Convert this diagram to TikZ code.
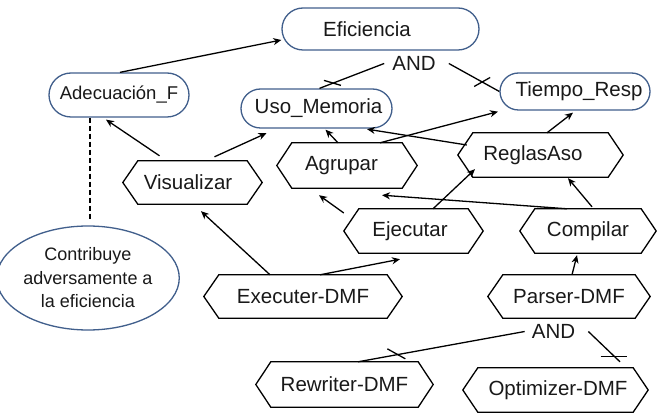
\documentclass[tikz,border=0pt]{standalone}
\usepackage{fontspec}
\setmainfont{Liberation Sans}
\usetikzlibrary{shapes.misc,shapes.geometric,arrows.meta}
\definecolor{bord}{RGB}{65,95,140}
\definecolor{txt}{RGB}{25,25,25}
\begin{document}
\begin{tikzpicture}[x=1pt,y=-1pt,
  stad/.style={rounded rectangle, draw=bord, line width=1.3pt, fill=white, inner sep=0pt, text=txt, font=\fontsize{20.5}{24}\selectfont},
  hexn/.style={rectangle, inner sep=0pt, text=txt, font=\fontsize{20.5}{24}\selectfont},
  hexline/.style={line width=1.3pt, line join=miter},
  andlbl/.style={inner sep=0pt, text=txt, font=\fontsize{20.5}{24}\selectfont},
  conn/.style={line width=1.3pt, -{Stealth[length=8pt,width=7pt,inset=2.5pt]}},
  plainln/.style={line width=1.3pt},
  tick/.style={line width=1.3pt}]
\useasboundingbox[fill=white] (0,0) rectangle (657,414);

% rounded (goal) nodes
\node[stad, minimum width=197pt, minimum height=42pt] (ef) at (380.5,29) {Eficiencia\kern27pt};
\node[stad, minimum width=140pt, minimum height=44pt, font=\fontsize{18.5}{22}\selectfont] (adec) at (119,95) {Adecuación\_F};
\node[stad, minimum width=151pt, minimum height=39pt] (uso) at (316.5,108.5) {\kern4pt Uso\_Memoria};
\node[stad, minimum width=150pt, minimum height=37pt] (tiempo) at (575,91.5) {\kern8pt Tiempo\_Resp};

% AND labels
\node[andlbl] (and1) at (414,63.5) {AND};
\node[andlbl] (and2) at (553.5,331.5) {AND};

% hexagon (task) nodes
\node[hexn, minimum width=139pt, minimum height=43pt] (vis) at (192.5,182.5) {Visualizar\kern9pt};
\node[hexn, minimum width=140pt, minimum height=45pt] (agr) at (347,165.5) {Agrupar\kern11pt};
\node[hexn, minimum width=165pt, minimum height=44pt] (reg) at (540.5,155) {ReglasAso\kern15pt};
\node[hexn, minimum width=139pt, minimum height=44pt] (eje) at (413.5,231) {Ejecutar\kern7pt};
\node[hexn, minimum width=136pt, minimum height=44pt] (com) at (588,231) {Compilar};
\node[hexn, minimum width=198pt, minimum height=43pt] (exe) at (303,296.5) {Executer-DMF};
\node[hexn, minimum width=162pt, minimum height=43pt] (par) at (569,296.5) {Parser-DMF};
\node[hexn, minimum width=177pt, minimum height=45pt] (rew) at (344.5,384.5) {Rewriter-DMF};
\node[hexn, minimum width=185pt, minimum height=44pt] (opt) at (555.5,390) {\kern5pt Optimizer-DMF};

\foreach \n in {vis,agr,reg,eje,com,exe,par,rew,opt}
  \draw[hexline] (\n.west) -- ([xshift=15pt]\n.north west) -- ([xshift=-15pt]\n.north east)
     -- (\n.east) -- ([xshift=-15pt]\n.south east) -- ([xshift=15pt]\n.south west) -- cycle;

% ellipse (comment)
\node[ellipse, draw=bord, line width=1.3pt, minimum width=162pt, minimum height=104pt, inner sep=0pt,
      align=center, text=txt, font=\fontsize{18}{23.5}\selectfont] (ell) at (88,278)
      {Contribuye\\adversamente a\\la eficiencia};

% dashed link
\draw[plainln, dashed, dash pattern=on 5pt off 3pt] ([xshift=-29pt]adec.south) -- ([xshift=2pt,yshift=4pt]ell.north);

% contributions
\draw[conn] ([xshift=1pt]adec.north) -- ([yshift=-11pt]ef.west);
\draw[conn] ([xshift=-33pt,yshift=5pt]vis.north) -- ([xshift=-13pt,yshift=-2pt]adec.south);
\draw[conn] ([xshift=22pt,yshift=4pt]vis.north) -- ([xshift=-50pt,yshift=-4.5pt]uso.south);
\draw[conn] ([xshift=-9pt]agr.north) -- ([xshift=9pt,yshift=-1pt]uso.south);
\draw[conn] ([xshift=33pt]agr.north) -- ([xshift=-77pt,yshift=-1pt]tiempo.south);
\draw[conn] ([xshift=9pt,yshift=10pt]reg.west) -- ([xshift=50.5pt,yshift=-0.5pt]uso.south);
\draw[conn] ([xshift=6.5pt]reg.north) -- ([xshift=-2pt,yshift=-2pt]tiempo.south);
\draw[conn] ([yshift=18pt]eje.west) -- ([xshift=-28pt,yshift=-7pt]agr.south);
\draw[conn] ([xshift=19.5pt]eje.north) -- ([xshift=-65.5pt,yshift=8pt]reg.south);
\draw[conn] ([xshift=-21pt]com.north) -- ([xshift=35pt,yshift=-7pt]agr.south);
\draw[conn] ([xshift=4pt,yshift=2pt]com.north) -- ([xshift=27.5pt,yshift=-1pt]reg.south);
\draw[conn] ([xshift=-33pt]exe.north) -- ([xshift=8.5pt,yshift=-7pt]vis.south);
\draw[conn] ([xshift=17pt]exe.north) -- ([xshift=-13.5pt,yshift=-6pt]eje.south);
\draw[conn] ([xshift=3pt]par.north) -- ([xshift=-11pt,yshift=-2pt]com.south);

% AND decompositions
\draw[plainln] ([xshift=-8pt]and1.west) -- coordinate[pos=0.8] (t1) ([xshift=3pt]uso.north);
\draw[plainln] ([xshift=13pt]and1.east) -- coordinate[pos=0.66] (t2) (tiempo.west);
\draw[tick] (t1) ++(-8.5,-3) -- ++(17,5);
\draw[tick] (t2) ++(-8,4.5) -- ++(16,-9);

\draw[plainln] ([xshift=-7pt]and2.west) -- coordinate[pos=0.77] (t3) ([xshift=13.5pt]rew.north);
\draw[plainln] ([xshift=13pt]and2.east) -- coordinate[pos=0.83] (t4) ([xshift=64.5pt,yshift=6pt]opt.north);
\draw[tick] (t3) ++(-9,-6) -- ++(18,10);
\draw[tick] (t4) ++(-14,0) -- ++(26,0);
\end{tikzpicture}
\end{document}
